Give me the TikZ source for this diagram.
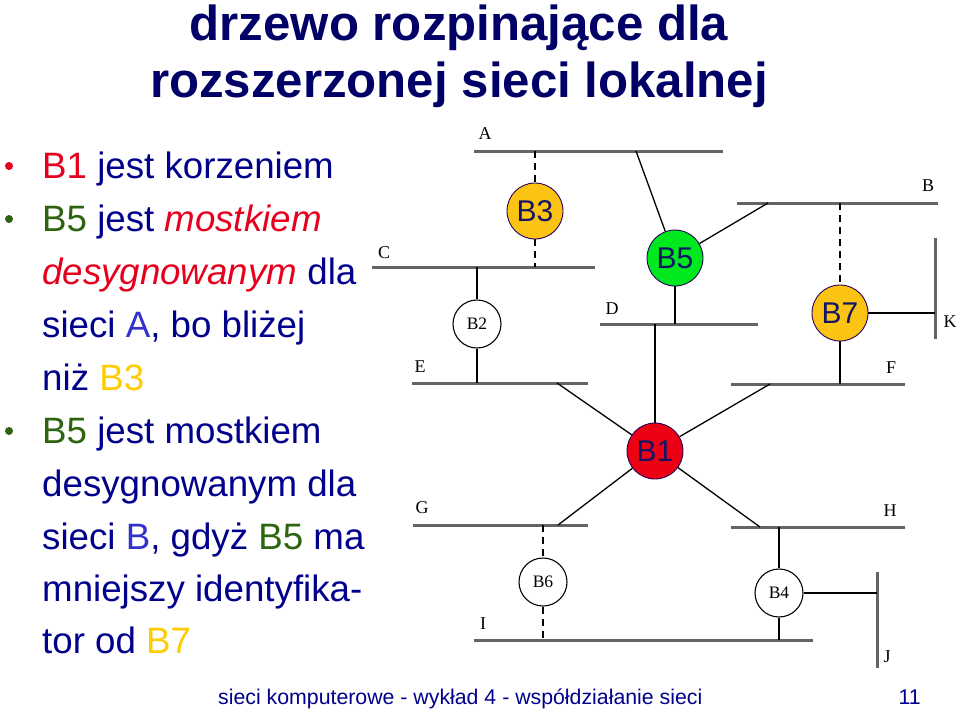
\documentclass[tikz,border=0pt]{standalone}
\usepackage{fontspec}
\setmainfont{Liberation Sans}
\newfontfamily\diagserif{Liberation Serif}
\definecolor{navyT}{RGB}{0,0,102}
\definecolor{navyB}{RGB}{0,0,140}
\definecolor{cred}{RGB}{230,0,30}
\definecolor{cgreen}{RGB}{45,100,15}
\definecolor{cblue}{RGB}{51,51,204}
\definecolor{cyellow}{RGB}{255,204,0}
\definecolor{busgray}{RGB}{100,100,100}
\definecolor{fillorange}{RGB}{252,196,18}
\definecolor{fillgreen}{RGB}{0,232,30}
\definecolor{fillred}{RGB}{236,0,20}
\definecolor{rim}{RGB}{40,0,90}
\definecolor{circtext}{RGB}{20,20,100}
\begin{document}
\begin{tikzpicture}[x=1pt,y=-1pt,
  bus/.style={line width=3pt,draw=busgray},
  conn/.style={line width=1.3pt,draw=black},
  dconn/.style={line width=1.3pt,draw=black,dash pattern=on 7pt off 5pt},
  bigbridge/.style={circle,draw=rim,line width=0.9pt,minimum size=56pt,inner sep=0pt,
     text=circtext,font=\fontsize{30}{31}\selectfont},
  smallbridge/.style={circle,draw=black,line width=1.1pt,fill=white,minimum size=48pt,inner sep=0pt,
     font=\diagserif\fontsize{17.5}{18}\selectfont},
  netlabel/.style={font=\diagserif\fontsize{18}{19}\selectfont,inner sep=0pt},
  body/.style={anchor=base west,inner sep=0pt,text=navyB,font=\fontsize{36.7}{40}\selectfont},
  titletext/.style={anchor=base,inner sep=0pt,text=navyT,font=\bfseries\fontsize{49.2}{52}\selectfont},
  bullet/.style={circle,inner sep=0pt,minimum size=8pt}
]
\useasboundingbox (0,0) rectangle (960,715);
\fill[white] (0,0) rectangle (960,715);

% title
\node[titletext] (title1) at (459,40) {drzewo rozpinające dla};
\node[titletext] (title2) at (459,97) {rozszerzonej sieci lokalnej};

% bullets
\node[bullet,fill=cred] (bu1) at (9,166) {};
\node[bullet,fill=cgreen] (bu2) at (9,219) {};
\node[bullet,fill=cgreen] (bu3) at (9,431) {};

% body text
\node[body] (l1) at (42,178) {\textcolor{cred}{B1} jest korzeniem};
\node[body] (l2) at (42,231) {\textcolor{cgreen}{B5} jest \textcolor{cred}{\itshape mostkiem}};
\node[body] (l3) at (42,284) {\textcolor{cred}{\itshape desygnowanym} dla};
\node[body] (l4) at (42,337) {sieci \textcolor{cblue}{A}, bo bliżej};
\node[body] (l5) at (42,390) {niż \textcolor{cyellow}{B3}};
\node[body] (l6) at (42,443) {\textcolor{cgreen}{B5} jest mostkiem};
\node[body] (l7) at (42,496) {desygnowanym dla};
\node[body] (l8) at (42,549) {sieci \textcolor{cblue}{B}, gdyż \textcolor{cgreen}{B5} ma};
\node[body] (l9) at (42,601) {mniejszy identyfika-};
\node[body] (l10) at (42,653) {tor od \textcolor{cyellow}{B7}};

% footer
\node[anchor=base west,inner sep=0pt,text=navyB,font=\fontsize{21.3}{23}\selectfont] (foot) at (218,704)
  {sieci komputerowe - wykład 4 - współdziałanie sieci};
\node[anchor=base east,inner sep=0pt,text=navyB,font=\fontsize{21.3}{23}\selectfont] (page) at (921,704) {11};

% bus end points
\coordinate (A1) at (474,151); \coordinate (A2) at (723,151);
\coordinate (C1) at (372,267); \coordinate (C2) at (595,267);
\coordinate (E1) at (412,383); \coordinate (E2) at (588,383);
\coordinate (D1) at (600,324); \coordinate (D2) at (758,324);
\coordinate (Bb1) at (737,203); \coordinate (Bb2) at (938,203);
\coordinate (K1) at (935,238); \coordinate (K2) at (935,339);
\coordinate (F1) at (731,384); \coordinate (F2) at (905,384);
\coordinate (G1) at (413,525); \coordinate (G2) at (588,525);
\coordinate (H1) at (731,527); \coordinate (H2) at (905,527);
\coordinate (I1) at (474,640); \coordinate (I2) at (813,640);
\coordinate (J1) at (877,572); \coordinate (J2) at (877,668);

\draw[bus] (A1) -- (A2);
\draw[bus] (C1) -- (C2);
\draw[bus] (E1) -- (E2);
\draw[bus] (D1) -- (D2);
\draw[bus] (Bb1) -- (Bb2);
\draw[bus] (K1) -- (K2);
\draw[bus] (F1) -- (F2);
\draw[bus] (G1) -- (G2);
\draw[bus] (H1) -- (H2);
\draw[bus] (I1) -- (I2);
\draw[bus] (J1) -- (J2);

% network labels
\node[netlabel] (lA) at (485,134) {A};
\node[netlabel] (lB) at (928,186) {B};
\node[netlabel] (lC) at (384,253) {C};
\node[netlabel] (lD) at (612,309) {D};
\node[netlabel] (lE) at (420,367) {E};
\node[netlabel] (lF) at (891,368) {F};
\node[netlabel] (lG) at (422,508) {G};
\node[netlabel] (lH) at (890,511) {H};
\node[netlabel] (lI) at (483,624) {I};
\node[netlabel] (lJ) at (887,657) {J};
\node[netlabel] (lK) at (950,322) {K};

% bridges
\node[bigbridge,fill=fillorange] (B3) at (535,211) {B3};
\node[bigbridge,fill=fillgreen] (B5) at (675,258) {B5};
\node[bigbridge,fill=fillorange] (B7) at (840,313) {B7};
\node[bigbridge,fill=fillred] (B1) at (655,451) {B1};
\node[smallbridge] (B2) at (477,324) {B2};
\node[smallbridge] (B6) at (543,582) {B6};
\node[smallbridge] (B4) at (779,593) {B4};

% attachment points
\coordinate (pA3) at (535,151); \coordinate (pC3) at (535,267);
\coordinate (pA5) at (636,151); \coordinate (pB5) at (768,203);
\coordinate (pD5) at (675,324);
\coordinate (pC2) at (477,267); \coordinate (pE2) at (477,383);
\coordinate (pB7) at (840,203); \coordinate (pK7) at (935,313); \coordinate (pF7) at (840,384);
\coordinate (pD1) at (655,324); \coordinate (pE1) at (557,383); \coordinate (pF1) at (770,384);
\coordinate (pG1) at (558,525); \coordinate (pH1) at (760,527);
\coordinate (pG6) at (543,525); \coordinate (pI6) at (543,640);
\coordinate (pH4) at (779,527); \coordinate (pI4) at (779,640); \coordinate (pJ4) at (877,593);

% connectors
\draw[dconn] (pA3) -- (B3);
\draw[dconn] (B3) -- (pC3);
\draw[conn] (pA5) -- (B5);
\draw[conn] (B5) -- (pB5);
\draw[conn] (B5) -- (pD5);
\draw[conn] (pC2) -- (B2);
\draw[conn] (B2) -- (pE2);
\draw[dconn] (pB7) -- (B7);
\draw[conn] (B7) -- (pK7);
\draw[conn] (B7) -- (pF7);
\draw[conn] (B1) -- (pD1);
\draw[conn] (B1) -- (pE1);
\draw[conn] (B1) -- (pF1);
\draw[conn] (B1) -- (pG1);
\draw[conn] (B1) -- (pH1);
\draw[dconn] (pG6) -- (B6);
\draw[dconn] (B6) -- (pI6);
\draw[conn] (pH4) -- (B4);
\draw[conn] (B4) -- (pI4);
\draw[conn] (B4) -- (pJ4);
\end{tikzpicture}
\end{document}
